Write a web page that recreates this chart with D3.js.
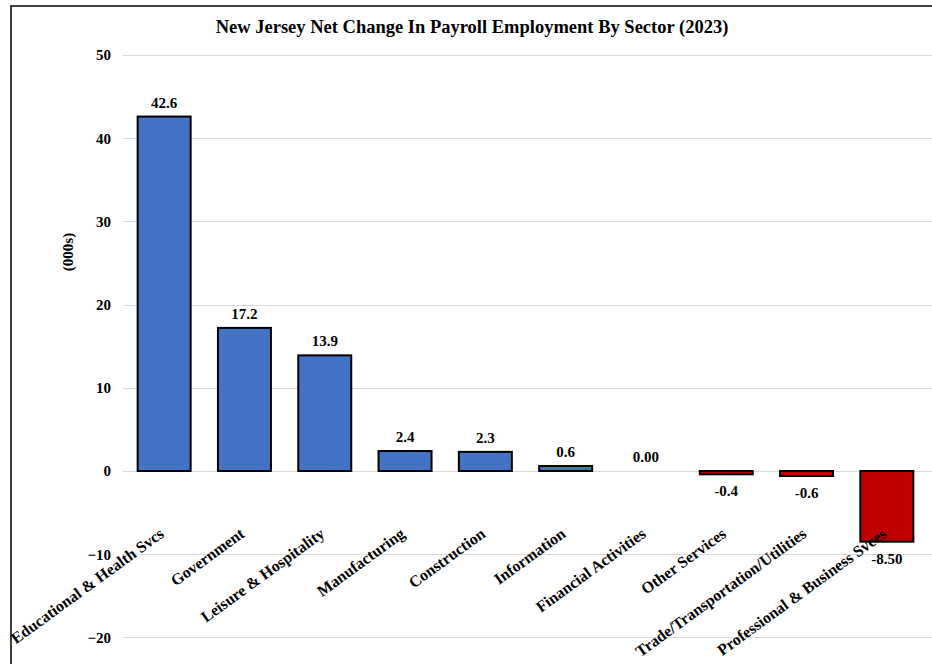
<!DOCTYPE html>
<html><head><meta charset="utf-8">
<script src="https://cdn.jsdelivr.net/npm/d3@7"></script>
<style>body{margin:0;background:#fff}svg{display:block}</style>
</head><body><svg id="c" width="932" height="664"></svg>
<script>
const categories = ["Educational & Health Svcs","Government","Leisure & Hospitality","Manufacturing","Construction","Information","Financial Activities","Other Services","Trade/Transportation/Utilities","Professional & Business Svces"];
const values = [42.6,17.2,13.9,2.4,2.3,0.6,0.0,-0.4,-0.6,-8.5];
const valueLabels = ["42.6","17.2","13.9","2.4","2.3","0.6","0.00","-0.4","-0.6","-8.50"];
const yTicks = [-20,-10,0,10,20,30,40,50];

const FONT = "'Liberation Serif', 'Times New Roman', serif";
const svg = d3.select("#c");
const x = d3.scaleBand().domain(categories).range([124,927]).paddingInner(0.34).paddingOuter(0.17);
const y = d3.scaleLinear().domain([-20,50]).range([637.4,55]);

function st(sel, size){ return sel.style("font-family",FONT).style("font-weight","bold").style("font-size",size+"px").attr("fill","#000"); }

// border
svg.append("path").attr("d","M11,700V6H940").attr("fill","none").attr("stroke","#000").attr("stroke-width",1.5);

// gridlines
svg.append("g").selectAll("line").data(yTicks).join("line")
  .attr("x1",123).attr("x2",940).attr("y1",d=>Math.round(y(d))+0.5).attr("y2",d=>Math.round(y(d))+0.5)
  .attr("stroke","#d9d9d9").attr("stroke-width",1);

// y axis
const ya = svg.append("g").attr("transform","translate(111,0)").call(d3.axisLeft(y).tickValues(yTicks).tickSize(0).tickPadding(0).tickFormat(d3.format("d")));
ya.select(".domain").remove();
st(ya.selectAll("text"),15);

st(svg.append("text").attr("transform","translate(73,252) rotate(-90)").attr("text-anchor","middle"),15).text("(000s)");

st(svg.append("text").attr("x",472).attr("y",33).attr("text-anchor","middle"),18.5).text("New Jersey Net Change In Payroll Employment By Sector (2023)");

// bars
svg.append("g").selectAll("rect").data(values).join("rect")
  .attr("x",(d,i)=>x(categories[i]))
  .attr("width",x.bandwidth())
  .attr("y",d=>y(Math.max(0,d)))
  .attr("height",d=>Math.abs(y(d)-y(0)))
  .attr("fill",d=>d<0?"#C00000":"#4472C4")
  .attr("stroke",d=>d===0?"none":"#000").attr("stroke-width",2);

// value labels
st(svg.append("g").selectAll("text").data(values).join("text")
  .attr("x",(d,i)=>x(categories[i])+x.bandwidth()/2)
  .attr("y",d=>d>=0?y(d)-9:y(d)+22)
  .attr("text-anchor","middle"),15)
  .text((d,i)=>valueLabels[i]);

// category labels
st(svg.append("g").selectAll("text").data(categories).join("text")
  .attr("transform",d=>`translate(${x(d)+x.bandwidth()/2+1},536) rotate(-36)`)
  .attr("text-anchor","end"),16)
  .text(d=>d);
</script></body></html>
